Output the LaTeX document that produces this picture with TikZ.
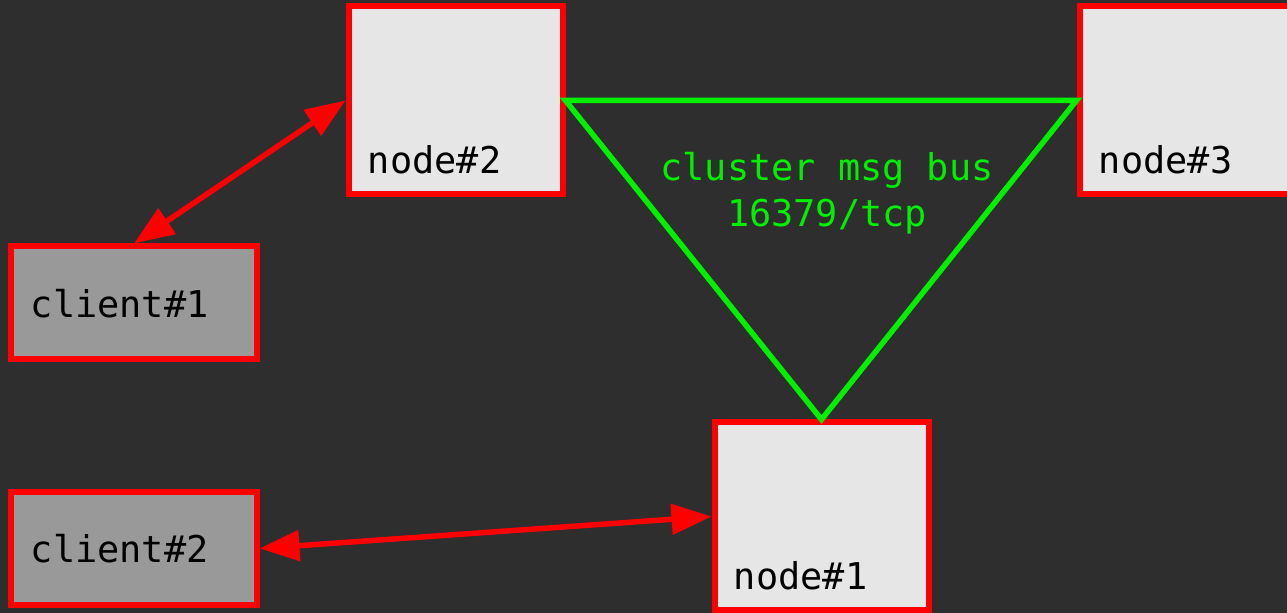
\documentclass[tikz,border=0pt]{standalone}
\usepackage{fontspec}
\setmonofont{DejaVu Sans Mono}
\usetikzlibrary{arrows.meta}
\definecolor{bgdark}{RGB}{46,46,47}
\definecolor{boxlight}{RGB}{230,230,230}
\definecolor{boxgrey}{RGB}{153,153,153}
\definecolor{busgreen}{RGB}{0,240,0}
\begin{document}
\begin{tikzpicture}[
  font=\ttfamily\fontsize{10.5}{13}\selectfont,
  server/.style={draw=red, fill=boxlight, line width=0.06cm, inner sep=0pt,
    minimum width=2.14cm, minimum height=1.88cm},
  client/.style={draw=red, fill=boxgrey, line width=0.06cm, inner sep=0pt,
    minimum width=2.45cm, minimum height=1.13cm},
  link/.style={draw=red, line width=0.055cm,
    {Triangle[length=0.4cm,width=0.3cm]}-{Triangle[length=0.4cm,width=0.3cm]}},
  bus/.style={draw=busgreen, line width=0.055cm},
  srvtext/.style={anchor=base west, xshift=0.1cm, yshift=0.24cm},
  clitext/.style={anchor=base west, xshift=0.1cm, yshift=-0.145cm}
]
  \useasboundingbox (0,0) rectangle (12.87,6.13);
  \clip (0,0) rectangle (12.87,6.13);
  \fill[bgdark] (0,0) rectangle (12.87,6.13);
  % servers and clients
  \node[server, label={[srvtext]south west:node\#2}] (node2) at (4.555,5.125) {};
  \node[server, label={[srvtext]south west:node\#3}] (node3) at (11.865,5.125) {};
  \node[server, label={[srvtext]south west:node\#1}] (node1) at (8.215,0.965) {};
  \node[client, label={[clitext]west:client\#1}] (client1) at (1.34,3.10) {};
  \node[client, label={[clitext]west:client\#2}] (client2) at (1.34,0.645) {};
  % cluster bus
  \draw[bus] (node2.east) -- (node3.west) -- (node1.north) -- cycle;
  \node[text=busgreen, align=center] (busText) at (8.27,4.20) {cluster msg bus\\16379/tcp};
  % client links
  \draw[link] (client1.north) -- (node2.west);
  \draw[link] (client2.east) -- (node1.west);
\end{tikzpicture}
\end{document}
